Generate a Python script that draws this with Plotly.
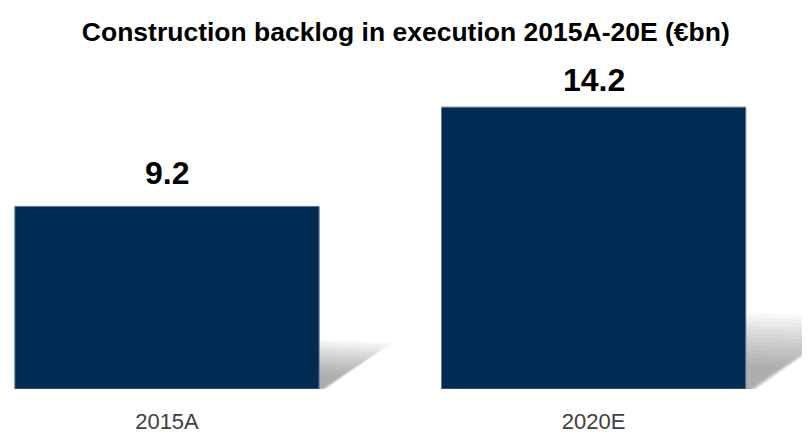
import plotly.graph_objects as go

# ---- data ----
categories = ["2015A", "2020E"]
values = [9.2, 14.2]
value_labels = ["9.2", "14.2"]
title_text = "<b>Construction backlog in execution 2015A-20E (€bn)</b>"

# ---- style ----
# the page body adds an 8px margin, so the figure is sized to fit the window
W, H = 802, 437
M_T, M_B = 52, 56
BAR_COLOR = "#012B52"
BAR_WIDTH = 0.713
X_RANGE = [-0.3726, 1.507]
Y_MAX = (H - M_T - M_B) / 19.85
label_shift = [13, 7]
FONT = "Liberation Sans, Arial, sans-serif"

fig = go.Figure()
fig.add_trace(go.Bar(
    x=list(range(len(categories))),
    y=values,
    width=BAR_WIDTH,
    marker=dict(color=BAR_COLOR, line=dict(color="#5b7898", width=1)),
    hoverinfo="skip",
))

# value labels
for i, (v, t) in enumerate(zip(values, value_labels)):
    fig.add_annotation(
        x=i, y=v, text=f"<b>{t}</b>", showarrow=False,
        xanchor="center", yanchor="bottom", yshift=label_shift[i],
        font=dict(family=FONT, size=32, color="#000000"),
    )

# soft drop shadows to the right of each bar (derived from bar values)
px_per_x = W / (X_RANGE[1] - X_RANGE[0])
px_per_y = (H - M_T - M_B) / Y_MAX
shapes = []
n_layers = 14
for i, v in enumerate(values):
    xr = i + BAR_WIDTH / 2
    h = v * 0.27
    d = 1.5 * (h * px_per_y) / px_per_x
    for k in range(n_layers):
        sc = 1.0 - k * (0.75 / n_layers)
        hh = h * sc
        dd = d * sc
        path = (f"M {xr},0 L {xr},{hh} L {xr + dd},{hh * 0.95} "
                f"L {xr + dd * 0.1},0 Z")
        shapes.append(dict(type="path", path=path, xref="x", yref="y",
                           fillcolor="#555555", opacity=0.04, line=dict(width=0),
                           layer="below"))

fig.update_layout(
    width=W, height=H,
    margin=dict(l=0, r=0, t=M_T, b=M_B, autoexpand=False),
    paper_bgcolor="white", plot_bgcolor="white",
    showlegend=False,
    shapes=shapes,
    title=dict(text=title_text, x=0.496, xanchor="center", y=0.945, yanchor="middle",
               font=dict(family=FONT, size=26.5, color="#000000")),
    xaxis=dict(
        range=X_RANGE, tickmode="array",
        tickvals=list(range(len(categories))), ticktext=categories,
        showgrid=False, zeroline=False, showline=False, ticks="",
        ticklabelstandoff=17,
        tickfont=dict(family=FONT, size=22, color="#404040"),
    ),
    yaxis=dict(range=[0, Y_MAX], visible=False, showgrid=False, zeroline=False),
)

fig.write_html("out.html")
